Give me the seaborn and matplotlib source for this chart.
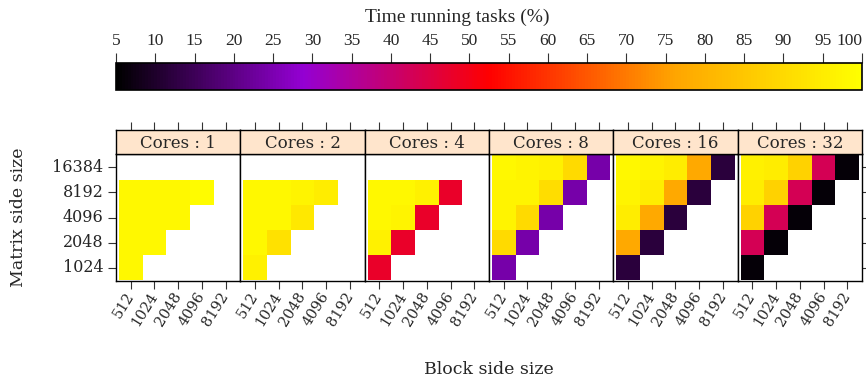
import numpy as np
import pandas as pd
import matplotlib
matplotlib.use("Agg")
import matplotlib.pyplot as plt
import seaborn as sns
from matplotlib.colors import LinearSegmentedColormap, Normalize
from matplotlib.cm import ScalarMappable

# ---------------- data ----------------
cores = [1, 2, 4, 8, 16, 32]
matrix_sizes = [1024, 2048, 4096, 8192, 16384]
block_sizes = [512, 1024, 2048, 4096, 8192]

# rows: matrix side size 1024 -> 16384; entries follow block sizes from 512
pct_c1 = [[98], [98, 98], [98, 98, 98], [98, 98, 98, 99], []]
pct_c2 = [[96], [98, 92], [98, 98, 94], [98, 98, 97, 95], []]
pct_c4 = [[48], [96, 48], [98, 97, 48], [98, 98, 96, 48], []]
pct_c8 = [[24], [90, 24], [97, 90, 24], [97, 97, 91, 24], [98, 97, 96, 90, 24]]
pct_c16 = [[12], [77, 12], [95, 77, 12], [97, 95, 77, 12], [98, 97, 95, 77, 12]]
pct_c32 = [[6], [43, 6], [88, 43, 6], [95, 88, 43, 6], [96, 95, 88, 43, 6]]
panels = [pct_c1, pct_c2, pct_c4, pct_c8, pct_c16, pct_c32]

cbar_ticks = list(range(5, 101, 5))

# ---------------- style ----------------
sns.set_theme(style="white")
plt.rcParams["font.family"] = ["DejaVu Serif"]
plt.rcParams["axes.linewidth"] = 1.0

cmap = LinearSegmentedColormap.from_list(
    "trt",
    [(0.0, "#000000"), (0.25, "#9400D3"), (0.5, "#FF0000"),
     (0.75, "#FFA500"), (1.0, "#FFFF00")],
)
vmin, vmax = 5, 100

W, H = 866, 383
fig = plt.figure(figsize=(W / 100, H / 100), dpi=100)


def fx(px):
    return px / W


def fy(py):
    return 1 - py / H


x0, x1 = 116, 862
pw = (x1 - x0) / len(cores)
ptop, pbot = 154, 281
stop = 130

for i, (c, vals) in enumerate(zip(cores, panels)):
    grid = np.full((len(matrix_sizes), len(block_sizes)), np.nan)
    for r, row in enumerate(vals):
        for k, v in enumerate(row):
            grid[r, k] = v
    df = pd.DataFrame(grid, index=matrix_sizes, columns=block_sizes)
    df = df.iloc[::-1]

    ax = fig.add_axes([fx(x0 + i * pw), fy(pbot), pw / W, (pbot - ptop) / H])
    sns.heatmap(df, ax=ax, cmap=cmap, vmin=vmin, vmax=vmax, cbar=False,
                xticklabels=[str(b) for b in block_sizes],
                yticklabels=[str(m) for m in df.index])
    ax.set_xlim(-0.12, len(block_sizes) + 0.12)
    ax.set_ylim(len(matrix_sizes) + 0.02, -0.02)
    ax.set_xlabel("")
    ax.set_ylabel("")
    for s in ax.spines.values():
        s.set_visible(True)
        s.set_color("black")
        s.set_linewidth(1.0)
    ax.tick_params(axis="x", bottom=True, top=False, length=6, width=0.8,
                   color="#333333", direction="out", pad=3, labelsize=10.5)
    for lab in ax.get_xticklabels():
        lab.set_rotation(58)
        lab.set_ha("right")
        lab.set_va("center")
        lab.set_rotation_mode("anchor")
    if i == 0:
        ax.tick_params(axis="y", left=True, right=False, labelleft=True,
                       length=6, width=0.8, color="#333333",
                       direction="out", pad=3, labelsize=11.5)
        for lab in ax.get_yticklabels():
            lab.set_rotation(0)
    elif i == len(cores) - 1:
        ax.tick_params(axis="y", left=False, right=True, labelleft=False,
                       labelright=False, length=6, width=0.8,
                       color="#333333", direction="out")
    else:
        ax.tick_params(axis="y", left=False, right=False, labelleft=False)

    # strip
    sax = fig.add_axes([fx(x0 + i * pw), fy(ptop), pw / W, (ptop - stop) / H])
    sax.set_facecolor("#ffe5cc")
    sax.set_xlim(ax.get_xlim())
    sax.set_ylim(0, 1)
    sax.set_xticks(np.arange(len(block_sizes)) + 0.5)
    sax.set_yticks([])
    sax.tick_params(axis="x", bottom=False, top=True, labelbottom=False,
                    labeltop=False, length=6, width=0.8, color="#333333",
                    direction="out")
    for s in sax.spines.values():
        s.set_visible(True)
        s.set_color("black")
        s.set_linewidth(1.0)
    sax.text(0.5, 0.45, f"Cores : {c}", transform=sax.transAxes,
             ha="center", va="center", fontsize=12)

# colorbar
cax = fig.add_axes([fx(x0), fy(90), (x1 - x0) / W, 27 / H])
sm = ScalarMappable(norm=Normalize(vmin, vmax), cmap=cmap)
cb = fig.colorbar(sm, cax=cax, orientation="horizontal", ticks=cbar_ticks)
cax.xaxis.set_ticks_position("top")
cax.xaxis.set_label_position("top")
cax.tick_params(axis="x", length=7, width=0.8, color="#333333",
                direction="out", pad=3, labelsize=12.5)
for lab in cax.get_xticklabels():
    lab.set_fontfamily("Liberation Serif")
cax.get_xticklabels()[-1].set_ha("right")
cb.outline.set_linewidth(1.2)
cb.outline.set_edgecolor("black")

fig.text(fx(457), fy(17), "Time running tasks (%)", ha="center",
         va="center", fontsize=14, family="Liberation Serif")
fig.text(fx(489), fy(369), "Block side size", ha="center", va="center",
         fontsize=12.5)
fig.text(fx(19), fy(217), "Matrix side size", ha="center", va="center",
         rotation=90, fontsize=12.5)

fig.savefig("out.png", dpi=100)
